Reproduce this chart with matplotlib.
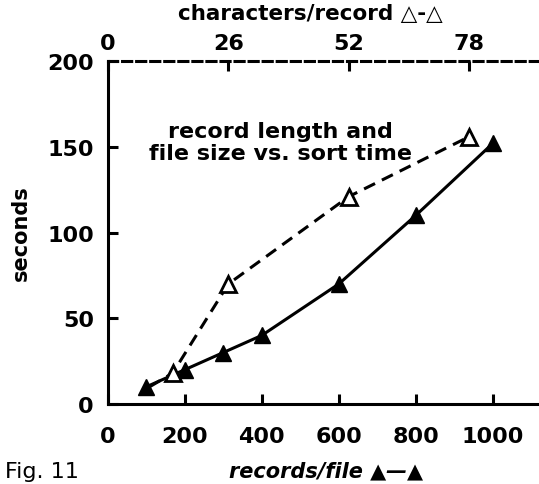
import matplotlib.pyplot as plt

# records/file (filled triangles, solid line)
records = [100, 200, 300, 400, 600, 800, 1000]
rec_seconds = [10, 20, 30, 40, 70, 110, 152]

# characters/record (open triangles, dashed line)
chars = [9, 14, 26, 52, 78]
char_seconds = [10, 18, 70, 121, 156]

bottom_ticks = [0, 200, 400, 600, 800, 1000]
top_ticks = [0, 26, 52, 78]
y_ticks = [0, 50, 100, 150, 200]

plt.rcParams['font.family'] = 'DejaVu Sans'
plt.rcParams['font.weight'] = 'bold'

fig = plt.figure(figsize=(5.39, 4.85), dpi=100)
ax = fig.add_axes([0.2, 0.165, 0.8, 0.707])

ax.plot(records, rec_seconds, color='black', lw=2.2, marker='^', ms=11,
        mfc='black', mec='black', clip_on=False, zorder=3)
ax.set_xlim(0, 1120)
ax.set_ylim(0, 200)
ax.set_xticks(bottom_ticks)
ax.set_yticks(y_ticks)
ax.tick_params(direction='in', length=7, width=2.2, labelsize=16, pad=10)
ax.tick_params(axis='x', pad=16)
ax.spines['right'].set_visible(False)
ax.spines['left'].set_linewidth(2.2)
ax.spines['bottom'].set_linewidth(2.2)
ax.spines['top'].set_linestyle((0, (3, 1.6)))
ax.spines['top'].set_linewidth(2.2)
ax.set_ylabel('seconds', fontsize=15, fontweight='bold', labelpad=12)

ax2 = ax.twiny()
# the dashed line starts at the first filled triangle, so no marker there
ax2.plot(chars, char_seconds, color='black', lw=2.2, ls=(0, (4, 2.5)),
         marker='^', ms=11, mfc='white', mec='black', mew=2,
         markevery=[1, 2, 3, 4], zorder=3)
ax2.set_xlim(0, 93)
ax2.set_xticks(top_ticks)
ax2.tick_params(direction='in', length=7, width=2.2, labelsize=16, pad=6)
for s in ax2.spines.values():
    s.set_visible(False)

fig.text(0.575, 0.972, 'characters/record \u25b3-\u25b3', ha='center',
         va='center', fontsize=15.5, fontweight='bold')

ax.text(0.40, 0.764, 'record length and\nfile size vs. sort time',
        transform=ax.transAxes, ha='center', va='center', fontsize=16,
        fontweight='bold', linespacing=1.15)

fig.text(0.605, 0.027, 'records/file \u25b2\u2014\u25b2', ha='center',
         va='center', fontsize=15, fontweight='bold', style='italic')
fig.text(0.01, 0.027, 'Fig. 11', ha='left', va='center', fontsize=16,
         fontweight='normal')

fig.savefig('out.png', dpi=100)
